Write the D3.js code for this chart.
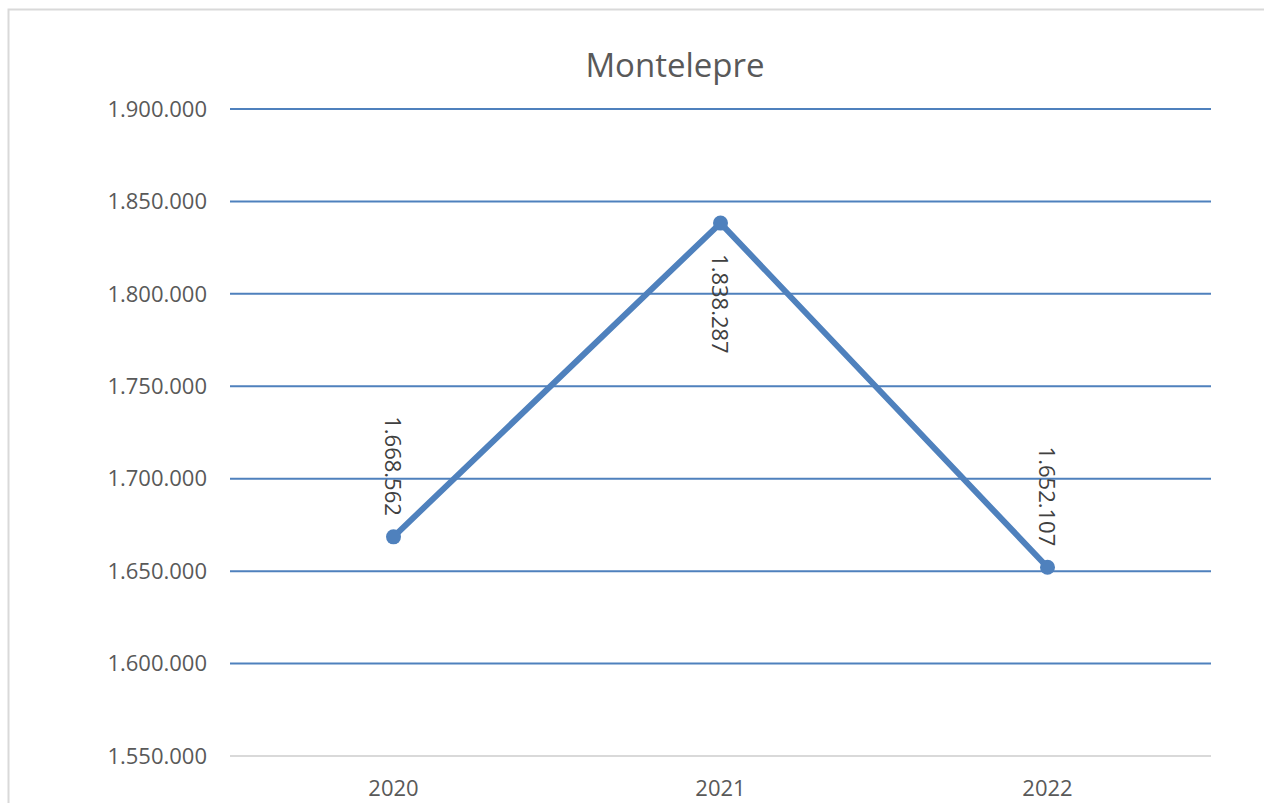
<!DOCTYPE html>
<html>
<head>
<meta charset="utf-8">
<script src="https://cdn.jsdelivr.net/npm/d3@7"></script>
<style>
body{margin:0;background:#fff;}
svg{display:block;}
</style>
</head>
<body>
<svg id="chart" width="1264" height="803"></svg>
<script>
var years = ["2020","2021","2022"];
var values = [1668562,1838287,1652107];
var yTicks = [1550000,1600000,1650000,1700000,1750000,1800000,1850000,1900000];
var chartTitle = "Montelepre";

var plotLeft=230, plotRight=1211, plotTop=109, plotBottom=756;
var lineColor="#4f81bd";
var fontFam="'Open Sans', 'Noto Sans', sans-serif";

// 1.900.000 style
function fmt(v){ return d3.format(",")(v).replace(/,/g,"."); }

var svg = d3.select("#chart");

// chart area border
svg.append("rect").attr("x",8.5).attr("y",9.5).attr("width",1270).attr("height",810)
  .attr("fill","#fff").attr("stroke","#d9d9d9").attr("stroke-width",2);

var x = d3.scaleBand().domain(years).range([plotLeft,plotRight]);
var y = d3.scaleLinear().domain([1550000,1900000]).range([plotBottom,plotTop]);

svg.append("text").attr("x",675).attr("y",77).attr("text-anchor","middle")
  .attr("font-family",fontFam).attr("font-size","33px").attr("fill","#595959").text(chartTitle);

// gridlines
svg.selectAll("line.grid").data(yTicks.slice(1)).enter().append("line").attr("class","grid")
  .attr("x1",plotLeft).attr("x2",plotRight).attr("y1",d=>y(d)).attr("y2",d=>y(d))
  .attr("stroke",lineColor).attr("stroke-width",2);
// x axis line
svg.append("line").attr("x1",plotLeft).attr("x2",plotRight).attr("y1",y(1550000)).attr("y2",y(1550000))
  .attr("stroke","#d9d9d9").attr("stroke-width",2);

// y labels
svg.selectAll("text.yl").data(yTicks).enter().append("text").attr("class","yl")
  .attr("x",207).attr("y",d=>y(d)).attr("dy","0.35em").attr("text-anchor","end")
  .attr("font-family",fontFam).attr("font-size","22px").attr("fill","#595959").text(d=>fmt(d));

// x labels
svg.selectAll("text.xl").data(years).enter().append("text").attr("class","xl")
  .attr("x",d=>x(d)+x.bandwidth()/2).attr("y",796).attr("text-anchor","middle")
  .attr("font-family",fontFam).attr("font-size","22px").attr("fill","#595959").text(d=>d);

var pts = years.map((d,i)=>[x(d)+x.bandwidth()/2, y(values[i])]);
svg.append("path").attr("d",d3.line()(pts)).attr("fill","none")
  .attr("stroke",lineColor).attr("stroke-width",6).attr("stroke-linejoin","round");
svg.selectAll("circle").data(pts).enter().append("circle")
  .attr("cx",d=>d[0]).attr("cy",d=>d[1]).attr("r",7.5).attr("fill",lineColor);

// rotated data labels; middle point below, others above
svg.selectAll("text.dl").data(values).enter().append("text").attr("class","dl")
  .attr("transform",(d,i)=>{
    var p=pts[i];
    var below = i==1;
    var ty = below ? p[1]+31 : p[1]-21;
    return "translate("+(p[0]-1)+","+ty+") rotate(90)";
  })
  .attr("text-anchor",(d,i)=>i==1?"start":"end").attr("dy","0.35em")
  .attr("font-family",fontFam).attr("font-size","22px").attr("fill","#404040").text(d=>fmt(d));
</script>
</body>
</html>
